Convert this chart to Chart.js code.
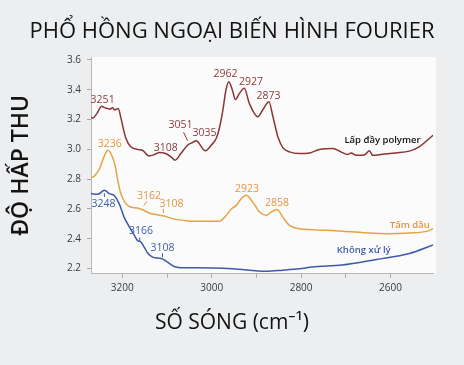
<!DOCTYPE html>
<html lang="vi">
<head>
<meta charset="utf-8">
<title>Phổ hồng ngoại biến hình Fourier</title>
<script src="https://cdn.jsdelivr.net/npm/chart.js@4.4.1/dist/chart.umd.min.js"></script>
<style>
  html, body { margin: 0; padding: 0; background: #eceef0; }
  #wrap { width: 464px; height: 365px; }
</style>
</head>
<body>
<div id="wrap"><canvas id="ftirChart" width="464" height="365"></canvas></div>
<script>
// ---------------------------------------------------------------------------
// Data (wavenumber in cm-1, absorbance)
// ---------------------------------------------------------------------------

const SERIES_NAMES = ['Lấp đầy polymer', 'Tấm dầu', 'Không xử lý'];

const WN_POLYMER = [3270, 3266, 3257, 3246, 3240, 3233, 3227, 3222, 3217, 3209, 3203, 3197, 3192, 3181, 3166,
    3155, 3140, 3128, 3117, 3103, 3091, 3082, 3069, 3054, 3043, 3035, 3014, 3001, 2990, 2983, 2975, 2968,
    2962, 2954, 2947, 2938, 2927, 2916, 2897, 2886, 2872, 2863, 2852, 2841, 2826, 2804, 2781, 2759, 2729,
    2711, 2696, 2688, 2677, 2659, 2647, 2640, 2618, 2588, 2558, 2536, 2505];
const ABS_POLYMER = [3.215, 3.21, 3.24, 3.29, 3.28, 3.275, 3.27, 3.28, 3.265, 3.275, 3.21, 3.13, 3.075, 3.017, 3.0,
    2.994, 2.956, 2.965, 2.979, 2.972, 2.95, 2.927, 2.972, 3.028, 3.046, 3.057, 2.99, 3.028, 3.073, 3.14, 3.264, 3.40,
    3.454, 3.40, 3.335, 3.376, 3.41, 3.31, 3.219, 3.264, 3.32, 3.219, 3.084, 3.012, 2.983, 2.972, 2.976, 2.999, 3.006,
    2.983, 2.965, 2.976, 2.96, 2.962, 2.99, 2.96, 2.967, 2.976, 2.988, 3.017, 3.095];

const WN_OIL = [3270, 3262, 3251, 3241, 3232, 3223, 3216, 3210, 3203, 3192, 3181, 3166, 3155, 3140, 3125,
    3106, 3088, 3061, 3032, 2983, 2971, 2956, 2945, 2934, 2923, 2908, 2893, 2878, 2867, 2854, 2841, 2826,
    2804, 2774, 2707, 2647, 2610, 2558, 2517, 2505];
const ABS_OIL = [2.808, 2.822, 2.87, 2.95, 2.994, 2.955, 2.89, 2.79, 2.70, 2.636, 2.613, 2.606, 2.595, 2.573, 2.562,
    2.552, 2.535, 2.523, 2.517, 2.517, 2.545, 2.60, 2.624, 2.669, 2.692, 2.646, 2.579, 2.557, 2.579, 2.597, 2.545, 2.49,
    2.467, 2.461, 2.451, 2.438, 2.434, 2.438, 2.451, 2.467];

const WN_UNTREATED = [3270, 3255, 3240, 3229, 3218, 3207, 3196, 3184, 3173, 3166, 3158, 3151, 3143, 3132, 3121, 3110,
    3099, 3084, 3061, 3032, 2953, 2878, 2841, 2804, 2775, 2708, 2632, 2558, 2505];
const ABS_UNTREATED = [2.703, 2.698, 2.725, 2.703, 2.69, 2.636, 2.545, 2.478, 2.422, 2.389, 2.377, 2.344, 2.303, 2.277, 2.27, 2.265,
    2.243, 2.214, 2.205, 2.205, 2.198, 2.182, 2.189, 2.198, 2.21, 2.224, 2.261, 2.301, 2.358];

const X_TICKS = [3200, 3100, 3000, 2900, 2800, 2700, 2600];
const X_TICK_LABELS = ['3200', '', '3000', '', '2800', '', '2600'];
const Y_TICKS = [2.2, 2.4, 2.6, 2.8, 3.0, 3.2, 3.4, 3.6];

const TITLE = 'PHỔ HỒNG NGOẠI BIẾN HÌNH FOURIER';
const X_TITLE = 'SỐ SÓNG (cm⁻¹)';
const Y_TITLE = 'ĐỘ HẤP THU';

// ---------------------------------------------------------------------------
// Styling
// ---------------------------------------------------------------------------

const FONT = "'Open Sans', 'Noto Sans', sans-serif";
const LINE_COLORS = ['#8c3434', '#e5a444', '#3c5aa8'];
const TEXT_COLORS = ['#8c3a3a', '#e3953f', '#3d5caa'];

// Peak labels and series names, anchored in axis units (wavenumber, absorbance)
const NOTES = [
    { text: '3251', s: 0, at: [3244, 3.331] },
    { text: '3108', s: 0, at: [3103, 3.010] },
    { text: '3051', s: 0, at: [3070, 3.163], line: [[3063, 3.115], [3054, 3.058]] },
    { text: '3035', s: 0, at: [3016, 3.111] },
    { text: '2962', s: 0, at: [2969, 3.506] },
    { text: '2927', s: 0, at: [2912, 3.454] },
    { text: '2873', s: 0, at: [2873, 3.360] },
    { text: '3236', s: 1, at: [3228, 3.035] },
    { text: '3162', s: 1, at: [3140, 2.685], line: [[3145, 2.651], [3152, 2.622]] },
    { text: '3108', s: 1, at: [3090, 2.631], line: [[3108, 2.601], [3108, 2.574]] },
    { text: '2923', s: 1, at: [2921, 2.737] },
    { text: '2858', s: 1, at: [2854, 2.642] },
    { text: '3248', s: 2, at: [3242, 2.631], line: [[3240, 2.705], [3240, 2.680]] },
    { text: '3166', s: 2, at: [3158, 2.451], line: [[3161, 2.409], [3161, 2.378]] },
    { text: '3108', s: 2, at: [3110, 2.337], line: [[3110, 2.303], [3110, 2.276]] },
];
const SERIES_TAGS = [
    { s: 0, at: [2618, 3.062], color: '#111111' },
    { s: 1, at: [2557, 2.490], color: '#e3953f' },
    { s: 2, at: [2660, 2.321], color: '#3d5caa' },
];

// ---------------------------------------------------------------------------
// Plugins
// ---------------------------------------------------------------------------

const panelPlugin = {
    id: 'panel',
    beforeDraw(chart) {
        const { ctx, chartArea: a } = chart;
        ctx.save();
        ctx.fillStyle = '#fbfbfc';
        ctx.fillRect(a.left, a.top, a.right - a.left + 3, a.bottom - a.top);
        ctx.restore();
    }
};

const notesPlugin = {
    id: 'notes',
    afterDatasetsDraw(chart) {
        const { ctx, scales: { x, y } } = chart;
        const px = (p) => [x.getPixelForValue(p[0]), y.getPixelForValue(p[1])];
        ctx.save();
        ctx.textAlign = 'center';
        ctx.textBaseline = 'middle';
        ctx.font = `400 10.5px ${FONT}`;
        NOTES.forEach((n) => {
            ctx.fillStyle = TEXT_COLORS[n.s];
            const [tx, ty] = px(n.at);
            ctx.fillText(n.text, tx, ty);
            if (n.line) {
                const [x1, y1] = px(n.line[0]);
                const [x2, y2] = px(n.line[1]);
                ctx.strokeStyle = TEXT_COLORS[n.s];
                ctx.lineWidth = 1;
                ctx.beginPath();
                ctx.moveTo(x1, y1);
                ctx.lineTo(x2, y2);
                ctx.stroke();
            }
        });
        ctx.font = `600 9.5px ${FONT}`;
        SERIES_TAGS.forEach((t) => {
            ctx.fillStyle = t.color;
            const [tx, ty] = px(t.at);
            ctx.fillText(SERIES_NAMES[t.s], tx, ty);
        });
        ctx.restore();
    }
};

// ---------------------------------------------------------------------------
// Chart
// ---------------------------------------------------------------------------

const toPoints = (xs, ys) => xs.map((v, i) => ({ x: v, y: ys[i] }));

const makeDataset = (i, xs, ys) => ({
    label: SERIES_NAMES[i],
    data: toPoints(xs, ys),
    borderColor: LINE_COLORS[i],
    borderWidth: 1.5,
    pointRadius: 0,
    cubicInterpolationMode: 'monotone',
    fill: false,
});

const ctx = document.getElementById('ftirChart').getContext('2d');

new Chart(ctx, {
    type: 'line',
    data: {
        datasets: [
            makeDataset(0, WN_POLYMER, ABS_POLYMER),
            makeDataset(1, WN_OIL, ABS_OIL),
            makeDataset(2, WN_UNTREATED, ABS_UNTREATED),
        ]
    },
    options: {
        responsive: false,
        animation: false,
        layout: { padding: { top: 19, left: 0, right: 0, bottom: 0 } },
        plugins: {
            legend: { display: false },
            tooltip: { enabled: false },
            title: {
                display: true,
                text: TITLE,
                color: '#141414',
                font: { family: FONT, size: 22, weight: '500' },
                padding: { top: 0, bottom: 11.6 }
            },
            subtitle: {
                display: true,
                position: 'bottom',
                text: X_TITLE,
                color: '#141414',
                font: { family: FONT, size: 21, weight: '500' },
                padding: { top: 0, bottom: 29.4 }
            }
        },
        scales: {
            x: {
                type: 'linear',
                reverse: true,
                min: 2505,
                max: 3270,
                afterBuildTicks: (s) => { s.ticks = X_TICKS.map((v) => ({ value: v })); },
                afterFit: (s) => { s.height = 36.8; },
                ticks: {
                    autoSkip: false,
                    maxRotation: 0,
                    padding: 5,
                    color: '#3a3a3a',
                    font: { family: FONT, size: 10 },
                    callback: (v, i) => X_TICK_LABELS[i]
                },
                grid: { drawOnChartArea: false, drawTicks: true, tickLength: 4, color: '#a8a8a8' },
                border: { color: '#b8b8b8' }
            },
            y: {
                type: 'linear',
                min: 2.166,
                max: 3.62,
                afterBuildTicks: (s) => { s.ticks = Y_TICKS.map((v) => ({ value: v })); },
                afterFit: (s) => { s.width = 91; },
                ticks: {
                    padding: 6,
                    color: '#3a3a3a',
                    font: { family: FONT, size: 10 },
                    callback: (v) => Number(v).toFixed(1)
                },
                grid: { drawOnChartArea: false, drawTicks: true, tickLength: 4, color: '#a8a8a8' },
                border: { color: '#b8b8b8' },
                title: {
                    display: true,
                    text: Y_TITLE,
                    color: '#141414',
                    font: { family: FONT, size: 23, weight: '600' },
                    padding: { top: 8, bottom: 0 }
                }
            },
            yPad: {
                position: 'right',
                display: true,
                afterFit: (s) => { s.width = 31; },
                ticks: { display: false },
                grid: { display: false },
                border: { display: false }
            }
        }
    },
    plugins: [panelPlugin, notesPlugin]
});
</script>
</body>
</html>
